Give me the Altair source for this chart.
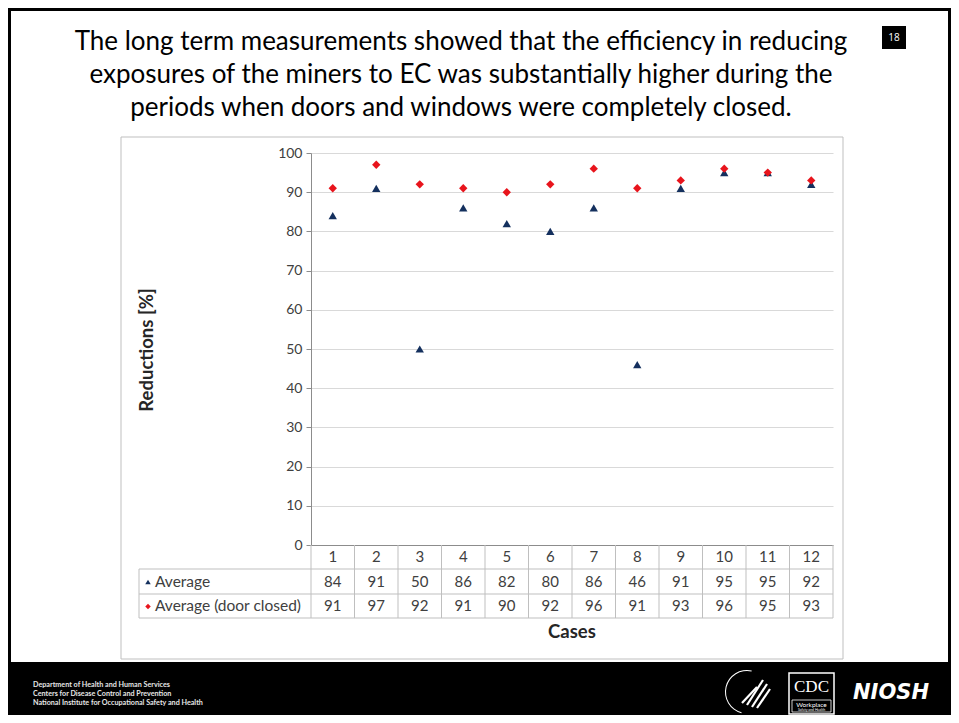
import altair as alt
import pandas as pd

# ---------------- data ----------------
cases = [1, 2, 3, 4, 5, 6, 7, 8, 9, 10, 11, 12]
average = [84, 91, 50, 86, 82, 80, 86, 46, 91, 95, 95, 92]
average_closed = [91, 97, 92, 91, 90, 92, 96, 91, 93, 96, 95, 93]
series_names = ["Average", "Average (door closed)"]
y_ticks = [0, 10, 20, 30, 40, 50, 60, 70, 80, 90, 100]
title_lines = [
    "The long term measurements showed that the efficiency in reducing",
    "exposures of the miners to EC was substantially higher during the",
    "periods when doors and windows were completely closed.",
]
slide_number = "18"
y_title = "Reductions [%]"
x_title = "Cases"
footer_lines = [
    "Department of Health and Human Services",
    "Centers for Disease Control and Prevention",
    "National Institute for Occupational Safety and Health",
]

# ---------------- layout ----------------
W, H = 522, 392
FONT = "Lato"
NAVY = "#14305e"
RED = "#e8141c"
GRID = "#d9d9d9"
TABLE = "#bfbfbf"
AXIS = "#8c8c8c"
TXT = "#404040"

df_avg = pd.DataFrame({"case": cases, "value": average, "series": series_names[0]})
df_cls = pd.DataFrame({"case": cases, "value": average_closed, "series": series_names[1]})
df_pts = pd.concat([df_avg, df_cls], ignore_index=True)
one = pd.DataFrame({"k": [0]})

xscale = alt.Scale(domain=cases, type="band", paddingInner=0, paddingOuter=0)
yscale = alt.Scale(domain=[0, 100], nice=False)

layers = []

def box(x1, x2, y1, y2, **kw):
    return alt.Chart(one).mark_rect(**kw).encode(
        x=alt.value(x1), x2=alt.value(x2), y=alt.value(y1), y2=alt.value(y2))

def hline(x1, x2, y, color, w=1):
    return alt.Chart(one).mark_rule(color=color, strokeWidth=w).encode(
        x=alt.value(x1), x2=alt.value(x2), y=alt.value(y))

def vline(x, y1, y2, color, w=1):
    return alt.Chart(one).mark_rule(color=color, strokeWidth=w).encode(
        x=alt.value(x), y=alt.value(y1), y2=alt.value(y2))

def label(txt, x, y, **kw):
    return alt.Chart(one).mark_text(text=txt, **kw).encode(x=alt.value(x), y=alt.value(y))

# chart frame
layers.append(box(-190, 532, -16, 506, stroke="#bfbfbf", strokeWidth=1, fill="white", fillOpacity=0))

# footer band
layers.append(box(-303, 640, 509, 562, fill="black"))
# slide border
layers.append(box(-301.5, 638.5, -143.5, 560.5, stroke="black", strokeWidth=3, fill="white", fillOpacity=0))

# title
for i, line in enumerate(title_lines):
    layers.append(label(line, 150, -111 + 33 * i, font=FONT, fontSize=26, color="black",
                        align="center", baseline="middle"))

# slide number box
layers.append(box(571, 595, -127, -104, fill="black"))
layers.append(label(slide_number, 583, -115.5, font="Open Sans", fontSize=10,
                    color="white", align="center", baseline="middle"))

# axis titles
layers.append(label(y_title, -164, 197, font=FONT, fontSize=18.5, fontWeight="bold", color="#262626",
                    angle=270, align="center", baseline="middle"))
layers.append(label(x_title, 261, 479, font=FONT, fontSize=18.5, fontWeight="bold", color="#262626",
                    align="center", baseline="middle"))

# points
pts = alt.Chart(df_pts).mark_point(filled=True, size=70, opacity=1).encode(
    x=alt.X("case:O", scale=xscale,
            axis=alt.Axis(labelAngle=0, labelFont=FONT, labelFontSize=15, labelColor=TXT,
                          labelPadding=4, ticks=False, domainColor=AXIS, title=None)),
    y=alt.Y("value:Q", scale=yscale,
            axis=alt.Axis(values=y_ticks, labelFont=FONT, labelFontSize=14, labelColor=TXT,
                          tickSize=5, tickColor=AXIS, domainColor=AXIS, gridColor=GRID,
                          labelPadding=4, title=None)),
    shape=alt.Shape("series:N", scale=alt.Scale(domain=series_names, range=["triangle-up", "diamond"]),
                    legend=None),
    color=alt.Color("series:N", scale=alt.Scale(domain=series_names, range=[NAVY, RED]), legend=None),
)
layers.append(pts)

# data table lines
layers.append(alt.Chart(pd.DataFrame({"case": cases})).mark_rule(color=TABLE, strokeWidth=1).encode(
    x=alt.X("case:O", scale=xscale, bandPosition=0), y=alt.value(H), y2=alt.value(465)))
layers.append(vline(W, H, 465, TABLE))
layers.append(vline(-172, 416, 465, TABLE))
for yy in [416, 441, 465]:
    layers.append(hline(-172, W, yy, TABLE))

# table values
for df, yy in [(df_avg, 428.5), (df_cls, 453)]:
    layers.append(alt.Chart(df).mark_text(font=FONT, fontSize=15, color=TXT, baseline="middle").encode(
        x=alt.X("case:O", scale=xscale), y=alt.value(yy), text="value:Q"))

# row labels with markers
layers.append(alt.Chart(one).mark_point(shape="triangle-up", filled=True, size=30, color=NAVY, opacity=1)
              .encode(x=alt.value(-163), y=alt.value(429)))
layers.append(alt.Chart(one).mark_point(shape="diamond", filled=True, size=30, color=RED, opacity=1)
              .encode(x=alt.value(-163), y=alt.value(453.5)))
layers.append(label(series_names[0], -156, 428.5, font=FONT, fontSize=15.5, color=TXT, align="left", baseline="middle"))
layers.append(label(series_names[1], -156, 453, font=FONT, fontSize=15.5, color=TXT, align="left", baseline="middle"))

# footer text
for i, line in enumerate(footer_lines):
    layers.append(label(line, -278, 532 + 9 * i, font=FONT, fontSize=7.2, fontWeight="bold",
                        color="#e6e6e6", align="left", baseline="middle"))

# HHS logo (stylized)
layers.append(alt.Chart(one).mark_arc(color="white", radius=22, radius2=21, theta=3.4, theta2=6.5)
              .encode(x=alt.value(436), y=alt.value(539)))
for (x1, y1, x2, y2) in [(436, 552, 452, 527), (441, 554, 456, 531), (446, 555, 459, 536), (431, 550, 446, 534)]:
    layers.append(alt.Chart(one).mark_rule(color="white", strokeWidth=2.2).encode(
        x=alt.value(x1), y=alt.value(y1), x2=alt.value(x2), y2=alt.value(y2)))

# CDC logo
layers.append(box(478, 523, 520, 561, stroke="white", strokeWidth=1.5, fill="black"))
layers.append(label("CDC", 500.5, 533.5, font="Liberation Serif", fontSize=17, color="white",
                    align="center", baseline="middle"))
layers.append(box(481, 520, 547, 559, stroke="white", strokeWidth=0.8, fill="black"))
layers.append(label("Workplace", 500.5, 551.5, font=FONT, fontSize=6.5, color="white",
                    align="center", baseline="middle"))
layers.append(label("Safety and Health", 500.5, 556.5, font=FONT, fontSize=3.5, color="white",
                    align="center", baseline="middle"))

# NIOSH logo
layers.append(label("NIOSH", 580, 540, font="DejaVu Sans", fontSize=21, fontWeight="bold",
                    fontStyle="italic", color="white", align="center", baseline="middle"))

chart = alt.layer(*layers).properties(
    width=W, height=H,
    padding={"left": 303, "top": 145, "right": 118, "bottom": 170},
    autosize=alt.AutoSizeParams(type="none"),
    background="white",
).configure_view(strokeWidth=0)

chart.save("out.html", embed_options={"renderer": "svg", "actions": False})
